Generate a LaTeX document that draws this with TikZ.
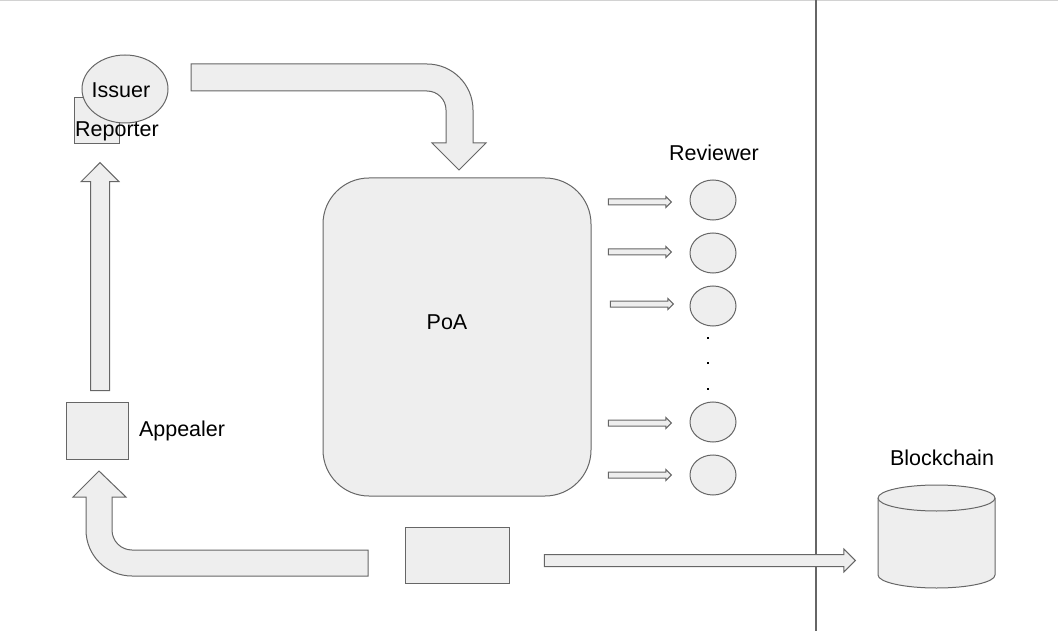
\documentclass[tikz,border=0pt]{standalone}
\usepackage{fontspec}
\setmainfont{Liberation Sans}
\usetikzlibrary{positioning,shapes.geometric,shapes.arrows}
\definecolor{boxfill}{HTML}{EEEEEE}
\definecolor{boxline}{HTML}{666666}

\begin{document}
\begin{tikzpicture}[x=1pt,y=-1pt,
    every node/.style={font=\fontsize{21.5}{26}\selectfont},
    blob/.style={draw=boxline,fill=boxfill,line width=1pt,inner sep=0pt},
    reviewer/.style={blob,ellipse,minimum width=46pt,minimum height=40pt},
    fatarrow/.style={blob,single arrow,single arrow tip angle=90,
        single arrow head indent=0pt,inner xsep=0pt},
    smallarrow/.style={fatarrow,minimum height=63pt,inner ysep=2.5pt,
        single arrow head extend=2.5pt,anchor=tip},
    dot/.style={fill=black,inner sep=0pt,minimum size=2pt}]
    \useasboundingbox (0,0) rectangle (1058,631);
    % frame line and chain border
    \draw[gray!35,line width=1.2pt] (0,0.6) -- (1058,0.6);
    \draw[boxline,line width=1.5pt] (816,0) -- (816,631);

    % left column
    \node[blob,minimum width=45pt,minimum height=46pt] (reporter) at (96.5,121) {};
    \node[blob,ellipse,minimum width=86pt,minimum height=68pt] (issuer) at (125,89) {};
    \node (issuerlbl) at (121,90) {Issuer};
    \node (reporterlbl) at (117,131) {Reporter};
    \node[fatarrow,rotate=90,minimum height=228pt,inner ysep=9pt,
        single arrow head extend=9.5pt,anchor=tip] (up) at (100,162) {};
    \node[blob,minimum width=62pt,minimum height=57pt] (appealer) at (97,430.5) {};
    \node[right=7pt of appealer] (appealerlbl) {Appealer};

    % PoA and reviewers
    \node[blob,rounded corners=46pt,minimum width=268pt,minimum height=318pt] (poa) at (457,337) {};
    \node (poalbl) at (447,322) {PoA};
    \node (reviewerlbl) at (714,153) {Reviewer};
    \node[reviewer] (r1) at (713,200) {};
    \node[reviewer] (r2) at (713,253) {};
    \node[reviewer] (r3) at (713,306) {};
    \node[reviewer] (r4) at (713,422) {};
    \node[reviewer] (r5) at (713,475) {};
    \node[smallarrow] (a1) at (672,202) {};
    \node[smallarrow] (a2) at (672,252) {};
    \node[smallarrow] (a3) at (674,304) {};
    \node[smallarrow] (a4) at (672,423) {};
    \node[smallarrow] (a5) at (672,475) {};
    \node[dot] (d1) at (708,338) {};
    \node[dot] (d2) at (708,363) {};
    \node[dot] (d3) at (708,389) {};

    % bottom
    \node[blob,minimum width=104pt,minimum height=56pt] (result) at (457,555) {};
    \node[fatarrow,minimum height=311pt,inner ysep=5.5pt,
        single arrow head extend=5.5pt,anchor=tip] (tochain) at (856,560.5) {};
    \node[minimum width=117pt,minimum height=103pt,inner sep=0pt] (chain) at (936.5,536.5) {};
    \draw[blob] (878,498) -- (878,575) arc[start angle=180,end angle=0,x radius=58.5,y radius=13]
        -- (995,498) arc[start angle=0,end angle=-180,x radius=58.5,y radius=13] -- cycle;
    \draw[blob] (878,498) arc[start angle=180,end angle=0,x radius=58.5,y radius=13];
    \node (chainlbl) at (942,458) {Blockchain};

    % bent arrows
    \draw[blob] (191,64) -- (427,64) arc[start angle=-90,end angle=0,radius=46]
        -- (473,143) -- (486,143) -- (459,170) -- (432,143) -- (446,143)
        -- (446,110) arc[start angle=0,end angle=-90,radius=19] -- (191,91) -- cycle;
    \draw[blob] (368,550) -- (132,550) arc[start angle=90,end angle=180,radius=20]
        -- (112,497) -- (126,497) -- (99,471) -- (73,497) -- (86,497)
        -- (86,530) arc[start angle=180,end angle=90,radius=46] -- (368,576) -- cycle;
\end{tikzpicture}
\end{document}
